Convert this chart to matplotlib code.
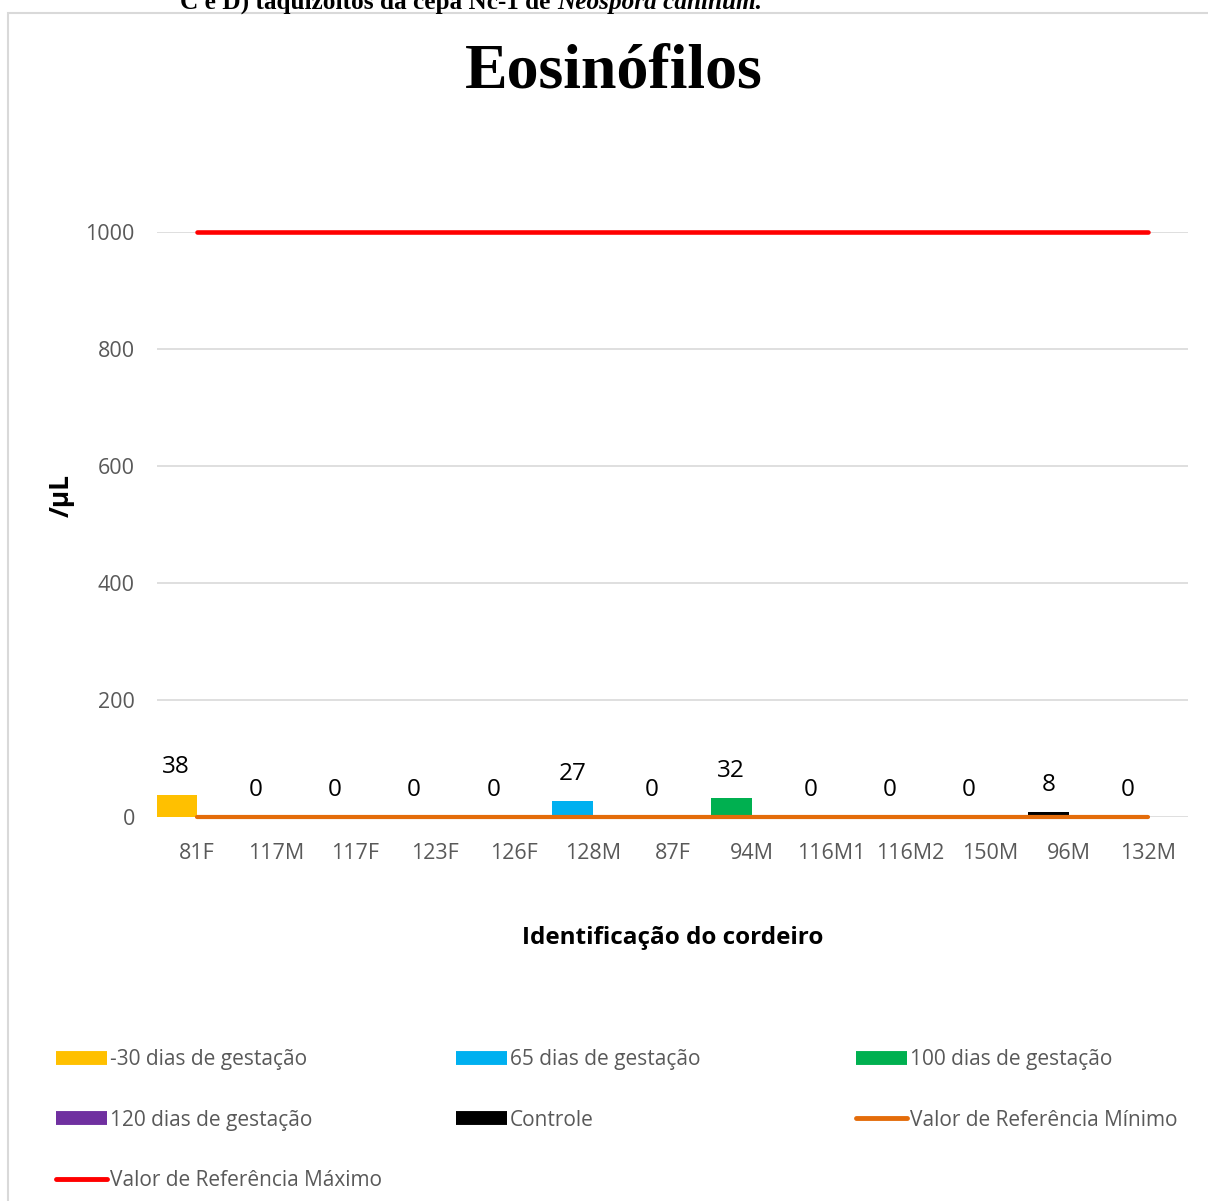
import matplotlib
matplotlib.use("Agg")
import matplotlib.pyplot as plt
from matplotlib.lines import Line2D
from matplotlib.patches import Rectangle
import numpy as np

# Data
categories = ["81F", "117M", "117F", "123F", "126F", "128M", "87F",
              "94M", "116M1", "116M2", "150M", "96M", "132M"]
serie_menos30 = [38, 0, 0, 0, 0, None, None, None, None, None, None, None, None]
serie_65 = [None, None, None, None, None, 27, 0, None, None, None, None, None, None]
serie_100 = [None, None, None, None, None, None, None, 32, 0, None, None, None, None]
serie_120 = [None, None, None, None, None, None, None, None, None, 0, 0, None, None]
serie_controle = [None, None, None, None, None, None, None, None, None, None, None, 8, 0]
ref_min = [0] * 13
ref_max = [1000] * 13

series = [
    ("-30 dias de gestação", serie_menos30, "#FFC000"),
    ("65 dias de gestação", serie_65, "#00B0F0"),
    ("100 dias de gestação", serie_100, "#00B050"),
    ("120 dias de gestação", serie_120, "#7030A0"),
    ("Controle", serie_controle, "#000000"),
]
yticks = [0, 200, 400, 600, 800, 1000]

W, H = 1208, 1201
fig = plt.figure(figsize=(W / 100, H / 100), dpi=100)
fig.patch.set_facecolor("white")

# chart frame
fig.add_artist(Rectangle((8 / W, -0.1), 1.2, 1 - 13 / H + 0.1, transform=fig.transFigure,
                         facecolor="none", edgecolor="#D9D9D9", lw=1.5, clip_on=False))

ax = fig.add_axes([157 / W, 1 - 817 / H, (1188 - 157) / W, (817 - 232) / H])
x = np.arange(len(categories))
offset = -0.26
width = 0.52

for name, vals, color in series:
    for i, v in enumerate(vals):
        if v is None:
            continue
        ax.bar(x[i] + offset, v, width=width, color=color, zorder=2)
        ax.annotate(str(v), (x[i] + offset, v), xytext=(0, 11), textcoords="offset points",
                    ha="center", va="bottom", fontsize=17.5, family="Open Sans", color="black")

ax.plot(x, ref_min, color="#E46C0A", lw=3, solid_capstyle="round", zorder=3, clip_on=False)
ax.plot(x, ref_max, color="#FF0000", lw=3.3, solid_capstyle="round", zorder=3, clip_on=False)

ax.set_xlim(-0.5, len(categories) - 0.5)
ax.set_ylim(0, 1000)
ax.set_yticks(yticks)
ax.set_xticks(x)
ax.set_xticklabels(categories)
for s in ax.spines.values():
    s.set_visible(False)
ax.grid(axis="y", color="#D9D9D9", lw=1.2, zorder=0)
ax.set_axisbelow(True)
ax.tick_params(axis="both", length=0, labelsize=15.5, labelcolor="#595959")
ax.tick_params(axis="x", pad=19)
ax.tick_params(axis="y", pad=16)
for lab in ax.get_xticklabels() + ax.get_yticklabels():
    lab.set_family("Open Sans")

ax.set_xlabel("Identificação do cordeiro", fontsize=17.5, fontweight="bold",
              family="Open Sans", labelpad=44)
ax.set_ylabel("/µL", fontsize=19, fontweight="bold", family="Open Sans")
ax.yaxis.set_label_coords((75 - 157) / (1188 - 157), 0.55)

fig.text(614 / W, 1 - 72 / H, "Eosinófilos", ha="center", va="center",
         fontsize=46, fontweight="bold", family="Liberation Serif")

# cut-off caption at the very top
t1 = fig.text(180 / W, 1 - 9 / H, "C e D) taquizoítos da cepa Nc-1 de ", ha="left",
              va="baseline", fontsize=18.2, fontweight="bold", family="Liberation Serif")
fig.canvas.draw()
bb = t1.get_window_extent()
fig.text(bb.x1 / W, 1 - 9 / H, "Neospora caninum.", ha="left", va="baseline",
         fontsize=18.2, fontweight="bold", style="italic", family="Liberation Serif")

# legend, three columns laid out row by row
handles = {name: Line2D([], [], color=c, lw=10, solid_capstyle="butt") for name, _, c in series}
handles["Valor de Referência Mínimo"] = Line2D([], [], color="#E46C0A", lw=3.5, solid_capstyle="round")
handles["Valor de Referência Máximo"] = Line2D([], [], color="#FF0000", lw=3.5, solid_capstyle="round")
columns = [
    ["-30 dias de gestação", "120 dias de gestação", "Valor de Referência Máximo"],
    ["65 dias de gestação", "Controle"],
    ["100 dias de gestação", "Valor de Referência Mínimo"],
]
col_x = [56, 456, 856]
for cx, names in zip(col_x, columns):
    fig.legend([handles[n] for n in names], names, loc="upper left",
               bbox_to_anchor=(cx / W, 1 - 1049 / H), frameon=False,
               prop={"family": "Open Sans", "size": 15}, labelcolor="#595959",
               handlelength=2.45, handletextpad=0.15, labelspacing=1.9,
               borderpad=0, borderaxespad=0)

fig.savefig("out.png", dpi=100, facecolor="white")
